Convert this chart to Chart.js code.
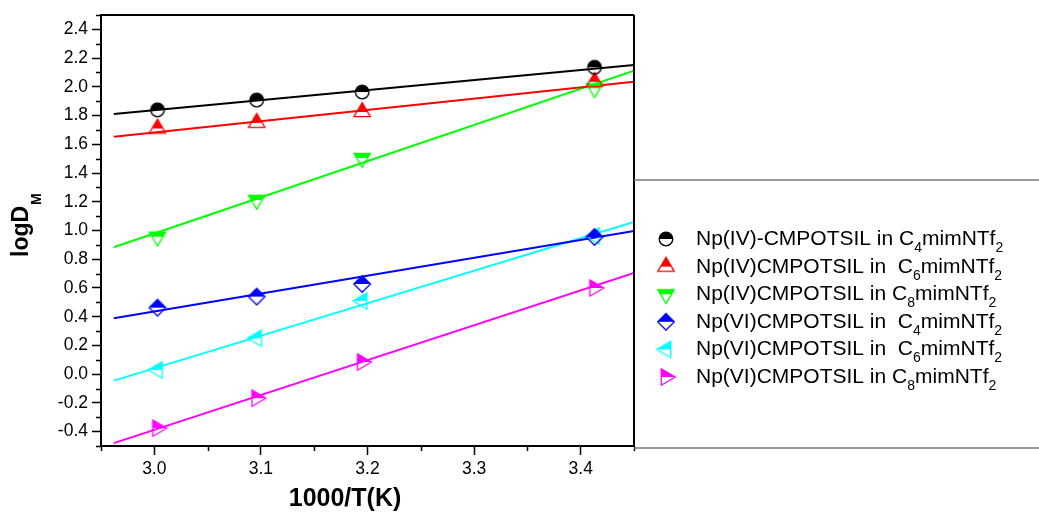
<!DOCTYPE html>
<html>
<head>
<meta charset="utf-8">
<script src="https://cdn.jsdelivr.net/npm/chart.js@4.4.1/dist/chart.umd.min.js"></script>
<style>
  body { margin: 0; background: #fff; }
  #logChart { display: block; }
</style>
</head>
<body>
<canvas id="logChart" width="1039" height="519"></canvas>
<script>
// 1000/T values of the measured points
const xValues = [3.003, 3.096, 3.195, 3.413];

// logD values
const npIV_C4 = [1.84, 1.908, 1.964, 2.136];
const npIV_C6 = [1.71, 1.75, 1.825, 2.035];
const npIV_C8 = [0.957, 1.213, 1.505, 1.99];
const npVI_C4 = [0.463, 0.54, 0.628, 0.955];
const npVI_C6 = [0.03, 0.25, 0.51, 0.962];
const npVI_C8 = [-0.376, -0.167, 0.085, 0.6];

// fitted lines, ends
const fitX = [2.962, 3.45];
const fitIV_C4 = [1.811, 2.152];
const fitIV_C6 = [1.653, 2.036];
const fitIV_C8 = [0.883, 2.112];
const fitVI_C4 = [0.389, 0.997];
const fitVI_C6 = [-0.045, 1.06];
const fitVI_C8 = [-0.48, 0.705];

const xTicks = [3.0, 3.1, 3.2, 3.3, 3.4];
const xMinor = [2.95, 3.05, 3.15, 3.25, 3.35, 3.45];
const yTicks = [-0.4, -0.2, 0.0, 0.2, 0.4, 0.6, 0.8, 1.0, 1.2, 1.4, 1.6, 1.8, 2.0, 2.2, 2.4];
const yMinor = [-0.5, -0.3, -0.1, 0.1, 0.3, 0.5, 0.7, 0.9, 1.1, 1.3, 1.5, 1.7, 1.9, 2.1, 2.3, 2.5];

// legend text: [text, subscript, text, subscript]
const legendParts = [
  ['Np(IV)-CMPOTSIL in C', '4', 'mimNTf', '2'],
  ['Np(IV)CMPOTSIL in  C', '6', 'mimNTf', '2'],
  ['Np(IV)CMPOTSIL in C', '8', 'mimNTf', '2'],
  ['Np(VI)CMPOTSIL in  C', '4', 'mimNTf', '2'],
  ['Np(VI)CMPOTSIL in  C', '6', 'mimNTf', '2'],
  ['Np(VI)CMPOTSIL in C', '8', 'mimNTf', '2']
];

const colors = ['#000000', '#ff0000', '#00ff00', '#0000ff', '#00ffff', '#ff00ff'];
const shapes = ['circle', 'triUp', 'triDown', 'diamond', 'triLeft', 'triRight'];
const pointSets = [npIV_C4, npIV_C6, npIV_C8, npVI_C4, npVI_C6, npVI_C8];
const fitSets = [fitIV_C4, fitIV_C6, fitIV_C8, fitVI_C4, fitVI_C6, fitVI_C8];

const FONT = '"Liberation Sans", Arial, sans-serif';

// half filled marker (upper half solid, lower half open)
function makeMarker(shape, color) {
  const c = document.createElement('canvas');
  c.width = 28; c.height = 28;
  const g = c.getContext('2d');
  const m = 14;
  g.beginPath();
  if (shape === 'circle') {
    g.arc(m, m, 6.8, 0, Math.PI * 2);
  } else if (shape === 'triUp') {
    g.moveTo(m, m - 9.3); g.lineTo(m + 8.2, m + 4.7); g.lineTo(m - 8.2, m + 4.7);
  } else if (shape === 'triDown') {
    g.moveTo(m, m + 9.3); g.lineTo(m + 8.2, m - 4.7); g.lineTo(m - 8.2, m - 4.7);
  } else if (shape === 'diamond') {
    g.moveTo(m, m - 8.3); g.lineTo(m + 8.3, m); g.lineTo(m, m + 8.3); g.lineTo(m - 8.3, m);
  } else if (shape === 'triLeft') {
    g.moveTo(m - 9.3, m); g.lineTo(m + 4.7, m - 8.2); g.lineTo(m + 4.7, m + 8.2);
  } else {
    g.moveTo(m + 9.3, m); g.lineTo(m - 4.7, m - 8.2); g.lineTo(m - 4.7, m + 8.2);
  }
  g.closePath();
  g.save();
  g.clip();
  g.fillStyle = color;
  g.fillRect(0, 0, 28, m);
  g.restore();
  g.lineWidth = 1.3;
  g.strokeStyle = color;
  g.stroke();
  return c;
}

const markers = shapes.map((s, i) => makeMarker(s, colors[i]));

const datasets = [];
pointSets.forEach((vals, i) => {
  datasets.push({
    label: legendParts[i].join(''),
    data: xValues.map((x, j) => ({ x: x, y: vals[j] })),
    showLine: false,
    pointStyle: markers[i],
    pointRadius: 7,
    order: 1
  });
});
fitSets.forEach((vals, i) => {
  datasets.push({
    label: 'fit ' + i,
    data: fitX.map((x, j) => ({ x: x, y: vals[j] })),
    showLine: true,
    borderColor: colors[i],
    borderWidth: 2,
    pointRadius: 0,
    order: 2
  });
});

const decorations = {
  id: 'decorations',
  afterDraw(chart) {
    const ctx = chart.ctx;
    const a = chart.chartArea;
    const xs = chart.scales.x, ys = chart.scales.y;
    ctx.save();
    ctx.strokeStyle = '#000';
    ctx.lineWidth = 1.5;
    // minor ticks
    ctx.beginPath();
    xMinor.forEach(v => {
      const px = Math.round(xs.getPixelForValue(v)) + 0.5;
      ctx.moveTo(px, a.bottom); ctx.lineTo(px, a.bottom + 5);
    });
    yMinor.forEach(v => {
      const py = Math.round(ys.getPixelForValue(v)) + 0.5;
      ctx.moveTo(a.left - 5, py); ctx.lineTo(a.left, py);
    });
    ctx.stroke();
    // frame top and right
    ctx.lineWidth = 2;
    ctx.beginPath();
    ctx.moveTo(a.left, a.top); ctx.lineTo(a.right, a.top);
    ctx.moveTo(a.right, a.top); ctx.lineTo(a.right, a.bottom);
    ctx.stroke();

    // legend box
    const boxTop = 180;
    ctx.strokeStyle = '#777';
    ctx.lineWidth = 1.5;
    ctx.beginPath();
    ctx.moveTo(a.right, boxTop); ctx.lineTo(chart.width, boxTop);
    ctx.moveTo(a.right, a.bottom + 2); ctx.lineTo(chart.width, a.bottom + 2);
    ctx.stroke();

    ctx.fillStyle = '#000';
    ctx.textBaseline = 'alphabetic';
    ctx.textAlign = 'left';
    legendParts.forEach((parts, i) => {
      const cy = 239 + i * 27.6;
      const mk = markers[i];
      ctx.drawImage(mk, 666 - mk.width / 2, cy - mk.height / 2);
      let tx = 696;
      parts.forEach((p, k) => {
        const sub = k % 2 === 1;
        ctx.font = (sub ? '14px ' : '21px ') + FONT;
        ctx.fillText(p, tx, cy + 6 + (sub ? 7 : 0));
        tx += ctx.measureText(p).width;
      });
    });

    // axis titles
    ctx.font = 'bold 25px ' + FONT;
    ctx.textAlign = 'center';
    ctx.fillText('1000/T(K)', 345, 506);

    ctx.translate(28, 257);
    ctx.rotate(-Math.PI / 2);
    ctx.textAlign = 'left';
    ctx.font = 'bold 23px ' + FONT;
    ctx.fillText('logD', 0, 0);
    const w = ctx.measureText('logD').width;
    ctx.font = 'bold 14px ' + FONT;
    ctx.fillText('M', w + 1, 13);
    ctx.restore();
  }
};

new Chart(document.getElementById('logChart'), {
  type: 'scatter',
  data: { datasets: datasets },
  options: {
    responsive: false,
    animation: false,
    layout: { padding: { top: 15, right: 405, left: 0, bottom: 0 } },
    plugins: { legend: { display: false }, tooltip: { enabled: false } },
    scales: {
      x: {
        type: 'linear',
        min: 2.95,
        max: 3.45,
        afterBuildTicks: s => { s.ticks = xTicks.map(v => ({ value: v })); },
        afterFit: s => { s.height = 73; },
        grid: { drawOnChartArea: false, tickLength: 9, tickColor: '#000', tickWidth: 1.5 },
        border: { color: '#000', width: 2 },
        ticks: {
          color: '#000',
          font: { family: FONT, size: 17.5 },
          padding: 4,
          maxRotation: 0,
          autoSkip: false,
          callback: v => v.toFixed(1)
        }
      },
      y: {
        type: 'linear',
        min: -0.5,
        max: 2.5,
        afterBuildTicks: s => { s.ticks = yTicks.map(v => ({ value: v })); },
        afterFit: s => { s.width = 101; },
        grid: { drawOnChartArea: false, tickLength: 9, tickColor: '#000', tickWidth: 1.5 },
        border: { color: '#000', width: 2 },
        ticks: {
          color: '#000',
          font: { family: FONT, size: 17.5 },
          padding: 4,
          autoSkip: false,
          callback: v => v.toFixed(1)
        }
      }
    }
  },
  plugins: [decorations]
});
</script>
</body>
</html>
